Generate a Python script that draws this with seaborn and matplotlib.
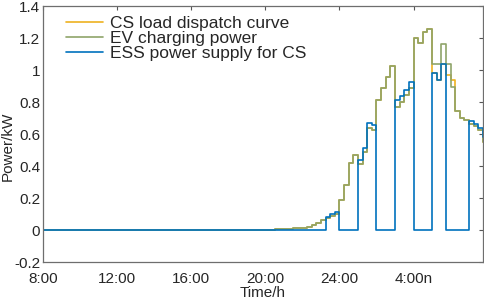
import matplotlib
matplotlib.use("Agg")
import matplotlib.pyplot as plt
import numpy as np
import pandas as pd
import seaborn as sns

# 15-min slots from 8:00 to 7:45 next day
slots = np.arange(96)

ev_tail = [0.002, 0.003, 0.004, 0.005, 0.006, 0.008, 0.010, 0.012,
           0.015, 0.020, 0.030, 0.045, 0.065, 0.075, 0.090, 0.100,
           0.19, 0.28, 0.42, 0.47, 0.41, 0.485, 0.635, 0.625,
           0.815, 0.885, 0.955, 1.025, 0.77, 0.80, 0.845, 0.885,
           1.20, 1.17, 1.24, 1.255, 1.0375, 1.0375, 1.16, 1.0375,
           0.896, 0.745, 0.70, 0.685, 0.665, 0.65, 0.625, 0.55]
ev_power = [0.0] * 48 + ev_tail

ess_tail = [0.0] * 13 + [0.083, 0.098, 0.11] + [0.0] * 4 + \
    [0.4375, 0.51, 0.67, 0.655] + [0.0] * 4 + \
    [0.81, 0.84, 0.875, 0.925] + [0.0] * 4 + \
    [0.98, 0.9375, 1.0375] + [0.0] * 5 + \
    [0.68, 0.665, 0.64, 0.58]
ess_power = [0.0] * 48 + ess_tail

cs_load = list(ev_power)
cs_load[84:89] = [0.98, 0.9375, 1.0375, 0.97, 0.9375]

labels = ["CS load dispatch curve", "EV charging power", "ESS power supply for CS"]
colors = ["#EDB120", "#8FA46A", "#0072BD"]

x_ticks = [0, 16, 32, 48, 64, 80]
x_labels = ["8:00", "12:00", "16:00", "20:00", "24:00", "4:00n"]
y_ticks = [-0.2, 0, 0.2, 0.4, 0.6, 0.8, 1.0, 1.2, 1.4]
y_labels = ["-0.2", "0", "0.2", "0.4", "0.6", "0.8", "1", "1.2", "1.4"]

df = pd.concat([
    pd.DataFrame({"slot": slots, "power": vals, "series": name})
    for name, vals in zip(labels, [cs_load, ev_power, ess_power])
])

sns.set_style("white")
plt.rcParams["font.family"] = ["Liberation Sans", "DejaVu Sans"]

fig = plt.figure(figsize=(4.84, 3.0), dpi=100)
ax = fig.add_axes([43 / 484, 38 / 300, 440 / 484, 256 / 300])

sns.lineplot(data=df, x="slot", y="power", hue="series", hue_order=labels,
             palette=dict(zip(labels, colors)), drawstyle="steps-post",
             estimator=None, linewidth=1.2, ax=ax)

ax.set_xlim(0, 95)
ax.set_ylim(-0.2, 1.4)
ax.set_xticks(x_ticks)
ax.set_xticklabels(x_labels)
ax.set_yticks(y_ticks)
ax.set_yticklabels(y_labels)
ax.tick_params(direction="in", length=3, width=0.8, color="#555555",
               labelsize=11, top=True, right=True)
ax.tick_params(axis="x", pad=7)
ax.tick_params(axis="y", pad=2)
for s in ax.spines.values():
    s.set_color("#6e6e6e")
    s.set_linewidth(0.9)
ax.set_xlabel("Time/h", fontsize=11, labelpad=0)
ax.set_ylabel("Power/kW", fontsize=11)
ax.yaxis.set_label_coords(-0.064, 0.45)

leg = ax.legend(loc="upper left", frameon=False, fontsize=12.5,
                handlelength=2.1, handletextpad=0.45, labelspacing=0.0,
                borderaxespad=0.3, bbox_to_anchor=(0.025, 1.01))

fig.savefig("out.png", dpi=100)
